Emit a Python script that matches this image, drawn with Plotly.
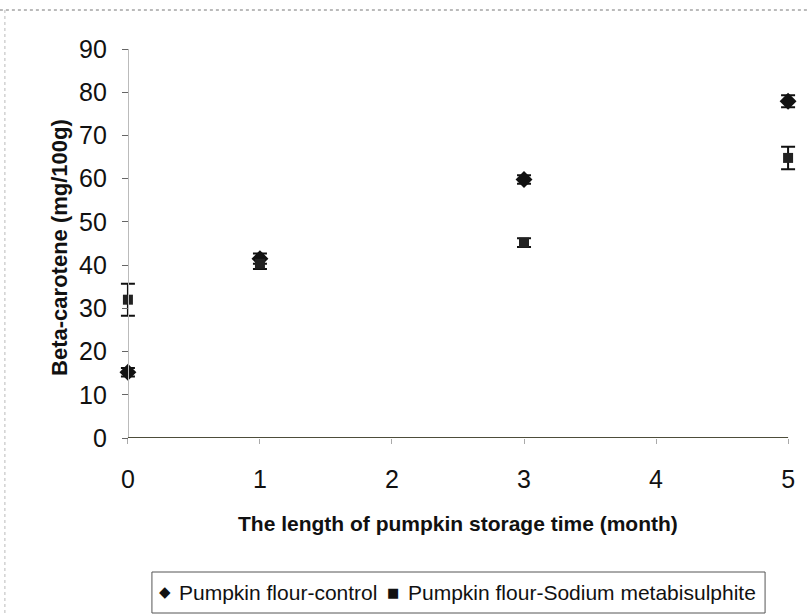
import plotly.graph_objects as go

months = [0, 1, 3, 5]
control = [15.2, 41.5, 59.8, 77.9]
control_err = [1.0, 1.2, 1.0, 1.4]
sodium = [32.0, 40.3, 45.2, 64.8]
sodium_err = [3.7, 1.2, 1.0, 2.6]
series_names = ["Pumpkin flour-control", "Pumpkin flour-Sodium metabisulphite"]
y_ticks = [0, 10, 20, 30, 40, 50, 60, 70, 80, 90]
x_ticks = [0, 1, 2, 3, 4, 5]

W, H = 807, 616
X0PX, X5PX = 128, 788          # pixel positions of month 0 and month 5
PAD = 0.06                     # small range padding so edge error bars are not clipped
unit = (X5PX - X0PX) / 5
L = X0PX - PAD * unit
pw = (5 + 2 * PAD) * unit
R = W - L - pw
T, B = 49, 178
ph = H - T - B

def px_x(p):
    return (p - L) / pw

def px_y(p):
    return (H - B - p) / ph

ink = "#111111"
font = "Liberation Sans, Arial, sans-serif"

fig = go.Figure()
fig.add_trace(go.Scatter(
    x=months, y=control, mode="markers", name=series_names[0],
    marker=dict(symbol="diamond", size=13, color=ink),
    error_y=dict(type="data", array=control_err, visible=True, color=ink, thickness=2, width=7),
    cliponaxis=False, showlegend=False,
))
fig.add_trace(go.Scatter(
    x=months, y=sodium, mode="markers", name=series_names[1],
    marker=dict(symbol="square", size=10, color="#222222"),
    error_y=dict(type="data", array=sodium_err, visible=True, color=ink, thickness=2, width=7),
    cliponaxis=False, showlegend=False,
))

annotations = [
    dict(text="<b>The length of pumpkin storage time (month)</b>", xref="paper", yref="paper",
         x=px_x(458), y=px_y(523), xanchor="center", yanchor="middle", showarrow=False,
         font=dict(size=21, family=font, color=ink)),
    dict(text="<b>Beta-carotene (mg/100g)</b>", xref="paper", yref="paper",
         x=px_x(60), y=px_y(247), xanchor="center", yanchor="middle", showarrow=False,
         textangle=-90, font=dict(size=22, family=font, color=ink)),
    # manual legend
    dict(text="◆", xref="paper", yref="paper", x=px_x(165), y=px_y(592),
         xanchor="center", yanchor="middle", showarrow=False,
         font=dict(size=15, family="DejaVu Sans", color=ink)),
    dict(text=series_names[0], xref="paper", yref="paper", x=px_x(177), y=px_y(592),
         xanchor="left", yanchor="middle", showarrow=False,
         font=dict(size=21, family=font, color=ink)),
    dict(text="■", xref="paper", yref="paper", x=px_x(393), y=px_y(592),
         xanchor="center", yanchor="middle", showarrow=False,
         font=dict(size=13, family="DejaVu Sans", color=ink)),
    dict(text=series_names[1], xref="paper", yref="paper", x=px_x(406), y=px_y(592),
         xanchor="left", yanchor="middle", showarrow=False,
         font=dict(size=21, family=font, color=ink)),
]

shapes = [
    # x axis line from month 0 to month 5
    dict(type="line", xref="x", yref="y", x0=0, x1=5, y0=0, y1=0,
         line=dict(color="#4d4d3a", width=2)),
    # legend box
    dict(type="rect", xref="paper", yref="paper", x0=px_x(152), x1=px_x(765),
         y0=px_y(572), y1=px_y(613), line=dict(color="#555555", width=1)),
    # outer frame (scan border)
    dict(type="line", xref="paper", yref="paper", x0=px_x(0), x1=px_x(W), y0=px_y(10), y1=px_y(10),
         line=dict(color="#777777", width=1, dash="dot")),
    dict(type="line", xref="paper", yref="paper", x0=px_x(5), x1=px_x(5), y0=px_y(10), y1=px_y(H),
         line=dict(color="#bbbbbb", width=1, dash="dot")),
]

fig.update_layout(
    width=W, height=H,
    margin=dict(l=L, r=R, t=T, b=B, autoexpand=False),
    paper_bgcolor="white", plot_bgcolor="white",
    font=dict(family=font, color=ink),
    showlegend=False,
    xaxis=dict(
        range=[-PAD, 5 + PAD], tickvals=x_ticks, showgrid=False, zeroline=False,
        showline=False,
        ticks="outside", ticklen=5, tickcolor="#aaaaaa", tickwidth=1,
        tickfont=dict(size=25, family=font, color=ink), ticklabelstandoff=14,
        fixedrange=True,
    ),
    yaxis=dict(
        range=[0, 90], tickvals=y_ticks, showgrid=False, zeroline=False,
        anchor="free", position=PAD / (5 + 2 * PAD),
        showline=True, linecolor="#bbbbbb", linewidth=1,
        ticks="outside", ticklen=6, tickcolor="#666666", tickwidth=1,
        tickfont=dict(size=25, family=font, color=ink), ticklabelstandoff=10,
        fixedrange=True,
    ),
    annotations=annotations,
    shapes=shapes,
)

fig.write_html("out.html")
